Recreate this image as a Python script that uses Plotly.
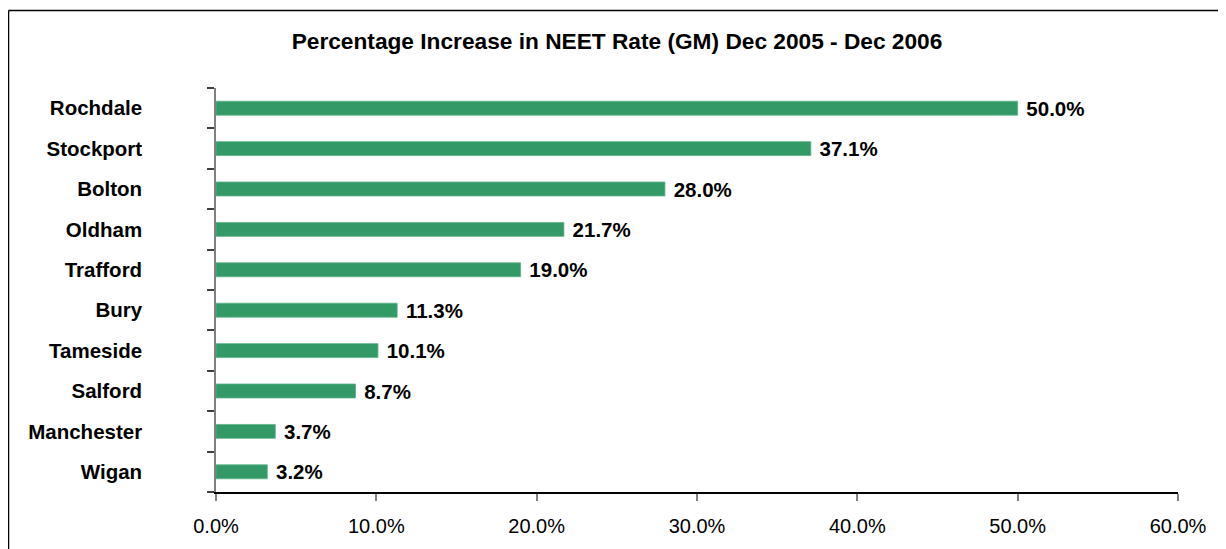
import plotly.graph_objects as go

# data (top to bottom)
areas = ["Rochdale", "Stockport", "Bolton", "Oldham", "Trafford",
         "Bury", "Tameside", "Salford", "Manchester", "Wigan"]
increase_pct = [50.0, 37.1, 28.0, 21.7, 19.0, 11.3, 10.1, 8.7, 3.7, 3.2]
x_ticks = [0, 10, 20, 30, 40, 50, 60]

font = "Liberation Sans, Arial, sans-serif"

# the page has an 8px body margin, so the figure is sized to fit inside it
W, H = 1218, 541

fig = go.Figure(go.Bar(
    x=increase_pct,
    y=areas,
    orientation="h",
    marker=dict(color="#339966", line=dict(color="#5db38a", width=0.8)),
    text=[f" {v:.1f}%" for v in increase_pct],
    textposition="outside",
    constraintext="none",
    textfont=dict(family=font, size=20.5, color="black", weight="bold"),
    cliponaxis=False,
))

fig.update_layout(
    width=W, height=H,
    margin=dict(l=208, r=48, t=80, b=55),
    paper_bgcolor="white", plot_bgcolor="white",
    showlegend=False,
    bargap=0.655,
    title=dict(text="<b>Percentage Increase in NEET Rate (GM) Dec 2005 - Dec 2006</b>",
               x=609 / W, xref="container", xanchor="center",
               y=1 - 33 / H, yref="container", yanchor="middle",
               font=dict(family=font, size=22.7, color="black")),
    xaxis=dict(range=[0, 60], tickvals=x_ticks,
               ticktext=[f"{v:.1f}%" for v in x_ticks],
               showgrid=False, zeroline=False,
               showline=True, linecolor="black", linewidth=1.5,
               ticks="outside", ticklen=7, tickcolor="#808080", tickwidth=1.5,
               tickfont=dict(family=font, size=20, color="black"),
               ticklabelstandoff=8),
    yaxis=dict(categoryorder="array", categoryarray=areas[::-1],
               tickson="boundaries", showgrid=False, zeroline=False,
               showline=True, linecolor="#808080", linewidth=1.5,
               ticks="outside", ticklen=7, tickcolor="#404040", tickwidth=1.5,
               tickfont=dict(family=font, size=20.5, color="black", weight="bold"),
               ticklabelstandoff=68),
)

# chart border: only the left and top edges are in the picture
bx0, by1 = (0.5 - 208) / 962, (486 - 2) / 406
fig.add_shape(type="line", xref="paper", yref="paper",
              x0=bx0, x1=bx0, y0=-0.2, y1=by1,
              line=dict(color="black", width=1.5))
fig.add_shape(type="line", xref="paper", yref="paper",
              x0=bx0, x1=(1230 - 208) / 962, y0=by1, y1=by1,
              line=dict(color="black", width=1.5))

# no scrollbars, and keep the page itself plain white
fig.write_html(
    "out.html",
    post_script="document.body.style.overflow='hidden';"
                "document.documentElement.style.overflow='hidden';"
                "document.body.style.background='white';",
)
